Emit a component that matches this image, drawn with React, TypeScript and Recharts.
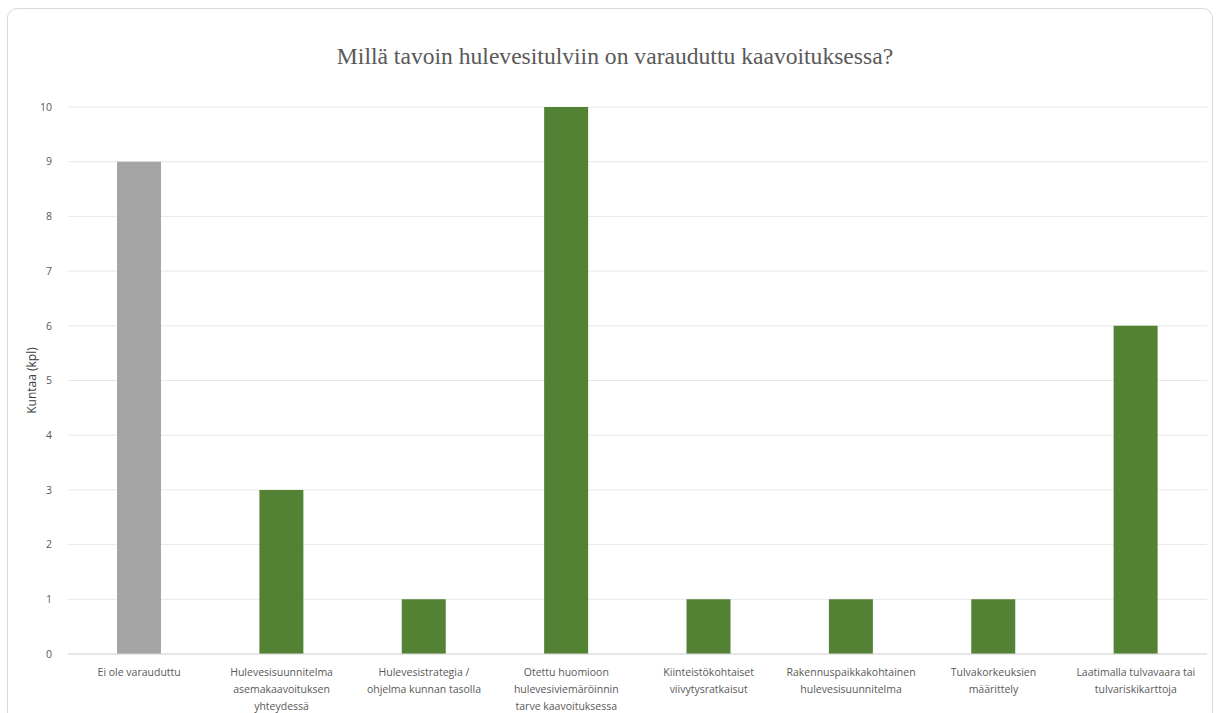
import { Bar, BarChart, CartesianGrid, Cell, XAxis, YAxis } from 'recharts';

const categories = [
  'Ei ole varauduttu',
  'Hulevesisuunnitelma\nasemakaavoituksen\nyhteydessä',
  'Hulevesistrategia /\nohjelma kunnan tasolla',
  'Otettu huomioon\nhulevesiviemäröinnin\ntarve kaavoituksessa',
  'Kiinteistökohtaiset\nviivytysratkaisut',
  'Rakennuspaikkakohtainen\nhulevesisuunnitelma',
  'Tulvakorkeuksien\nmäärittely',
  'Laatimalla tulvavaara tai\ntulvariskikarttoja',
];
const counts = [9, 3, 1, 10, 1, 1, 1, 6];
const yTicks = [0, 1, 2, 3, 4, 5, 6, 7, 8, 9, 10];

const GREY = '#a5a5a5';
const GREEN = '#548235';

const data = categories.map((name, i) => ({ name, value: counts[i] }));

function CategoryTick({ x, y, payload }: any) {
  const lines = String(payload.value).split('\n');
  return (
    <text x={x} y={y} textAnchor="middle" fill="#595959" fontSize={10.5} fontFamily="'Open Sans', sans-serif">
      {lines.map((line, i) => (
        <tspan key={i} x={x} dy={i === 0 ? 14 : 17}>
          {line}
        </tspan>
      ))}
    </text>
  );
}

export default function App() {
  return (
    <div style={{ position: 'absolute', left: 0, top: 0, width: 1217, height: 713, overflow: 'hidden', background: '#fff' }}>
      <div
        style={{
          position: 'absolute',
          left: 7,
          top: 8,
          width: 1206,
          height: 720,
          border: '1px solid #d9d9d9',
          borderRadius: 10,
          boxSizing: 'border-box',
        }}
      />
      <div
        style={{
          position: 'absolute',
          left: 0,
          top: 41,
          width: 1230,
          textAlign: 'center',
          fontFamily: "'Liberation Serif', 'Times New Roman', serif",
          fontSize: 23.6,
          color: '#595959',
          lineHeight: '30px',
        }}
      >
        Millä tavoin hulevesitulviin on varauduttu kaavoituksessa?
      </div>
      <div style={{ position: 'absolute', left: 0, top: 0 }}>
        <BarChart width={1217} height={713} data={data} margin={{ top: 107, right: 10, bottom: 0, left: 0 }}>
          <CartesianGrid vertical={false} stroke="#e8e8e8" />
          <XAxis
            dataKey="name"
            height={59}
            interval={0}
            axisLine={{ stroke: '#d9d9d9' }}
            tickLine={false}
            tick={<CategoryTick />}
          />
          <YAxis
            width={68}
            domain={[0, 10]}
            ticks={yTicks}
            axisLine={false}
            tickLine={false}
            tickMargin={10}
            tick={{ fill: '#595959', fontSize: 10.5, fontFamily: "'Open Sans', sans-serif" }}
            label={{
              value: 'Kuntaa (kpl)',
              angle: -90,
              position: 'insideLeft',
              offset: 32,
              style: { textAnchor: 'middle', fill: '#404040', fontSize: 12, fontFamily: "'Open Sans', sans-serif" },
            }}
          />
          <Bar dataKey="value" barSize={44} isAnimationActive={false}>
            {data.map((d, i) => (
              <Cell key={d.name} fill={i === 0 ? GREY : GREEN} />
            ))}
          </Bar>
        </BarChart>
      </div>
    </div>
  );
}
